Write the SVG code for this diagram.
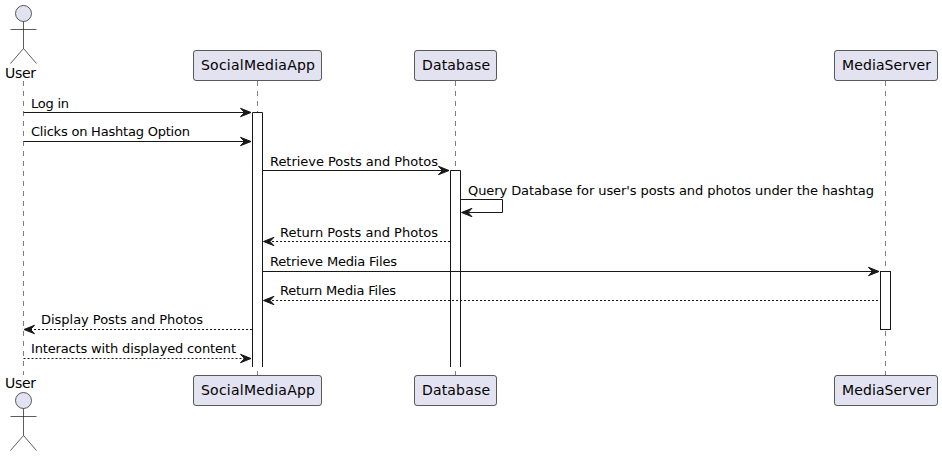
<svg xmlns="http://www.w3.org/2000/svg" width="942" height="456" viewBox="0 0 942 456">
<style>
text{font-family:"DejaVu Sans",sans-serif;fill:#000}
.p{font-size:14px}
.m{font-size:13px}
.life{stroke:#181818;stroke-opacity:.55;stroke-width:1;stroke-dasharray:5,5;fill:none}
.box{fill:#E2E2F0;stroke:#181818;stroke-opacity:.7;stroke-width:1}
.act{fill:#fff;stroke:#181818;stroke-width:1}
.act2{fill:#fff;stroke:none}
.actl{stroke:#181818;stroke-width:1;fill:none}
.a{stroke:#181818;stroke-width:1;fill:none}
.d{stroke:#181818;stroke-width:1;fill:none;stroke-dasharray:2,2}
.h{fill:#181818;stroke:#181818;stroke-width:1}
.fig{fill:none;stroke:#181818;stroke-opacity:.7;stroke-width:1}
.head{fill:#E2E2F0;stroke:#181818;stroke-opacity:.7;stroke-width:1}
</style>
<defs>
<path id="ar" class="h" d="M0,0 L-10.5,-4.2 L-6.5,0 L-10.5,4.2 Z"/>
<path id="al" class="h" d="M0,0 L10.5,-4.2 L6.5,0 L10.5,4.2 Z"/>
<g id="fig"><circle class="head" cx="0" cy="0" r="8"/><path class="fig" d="M0,8 V35 M-13,16 H13 M0,35 L-13,50 M0,35 L13,50"/></g>
</defs>
<g id="lifelines">
<path class="life" d="M23.5,81 V375"/>
<path class="life" d="M257.5,81 V375"/>
<path class="life" d="M455.5,81 V375"/>
<path class="life" d="M885.5,81 V375"/>
</g>
<g id="activations">
<rect class="act2" x="252" y="112" width="10" height="255"/>
<path class="actl" d="M252.5,367 V112.5 H262.5 V367"/>
<rect class="act2" x="450" y="170" width="10" height="197"/>
<path class="actl" d="M450.5,367 V170.5 H460.5 V367"/>
<rect class="act" x="880.5" y="271.5" width="10" height="58"/>
</g>
<g id="connectors">
<path class="a" d="M23.5,112.5 H247"/><use href="#ar" x="251" y="112.5"/>
<path class="a" d="M23.5,141.5 H247"/><use href="#ar" x="251" y="141.5"/>
<path class="a" d="M262.5,170.5 H445"/><use href="#ar" x="449" y="170.5"/>
<path class="a" d="M460.5,199.5 H502.5 V212.5 H466"/><use href="#al" x="461.5" y="212.5"/>
<path class="d" d="M450,241.5 H267"/><use href="#al" x="263.5" y="241.5"/>
<path class="a" d="M262.5,271.5 H875"/><use href="#ar" x="879" y="271.5"/>
<path class="d" d="M878,300.5 H267"/><use href="#al" x="263.5" y="300.5"/>
<path class="d" d="M252,329.5 H28"/><use href="#al" x="24" y="329.5"/>
<path class="d" d="M23.5,358.5 H247"/><use href="#ar" x="251" y="358.5"/>
</g>
<g id="labels">
<text class="m" x="31" y="108" textLength="38">Log in</text>
<text class="m" x="31" y="136" textLength="159">Clicks on Hashtag Option</text>
<text class="m" x="270" y="166" textLength="168">Retrieve Posts and Photos</text>
<text class="m" x="468" y="195" textLength="406">Query Database for user's posts and photos under the hashtag</text>
<text class="m" x="280" y="237" textLength="158">Return Posts and Photos</text>
<text class="m" x="270" y="266" textLength="127">Retrieve Media Files</text>
<text class="m" x="280" y="295" textLength="116">Return Media Files</text>
<text class="m" x="41" y="324" textLength="162">Display Posts and Photos</text>
<text class="m" x="31" y="353" textLength="205">Interacts with displayed content</text>
</g>
<g id="user-top"><use href="#fig" x="23.5" y="13.5"/><text class="p" x="5" y="78" textLength="31">User</text></g>
<g id="user-bottom"><text class="p" x="5" y="388" textLength="31">User</text><use href="#fig" x="23.5" y="400.5"/></g>
<g id="socialmediaapp-top"><rect class="box" x="193.5" y="50.5" width="128" height="30" rx="2.5"/><text class="p" x="201" y="70" textLength="114">SocialMediaApp</text></g>
<g id="database-top"><rect class="box" x="414.5" y="50.5" width="82" height="30" rx="2.5"/><text class="p" x="422" y="70" textLength="68">Database</text></g>
<g id="mediaserver-top"><rect class="box" x="834.5" y="50.5" width="103" height="30" rx="2.5"/><text class="p" x="842" y="70" textLength="89">MediaServer</text></g>
<g id="socialmediaapp-bottom"><rect class="box" x="193.5" y="375.5" width="128" height="30" rx="2.5"/><text class="p" x="201" y="395" textLength="114">SocialMediaApp</text></g>
<g id="database-bottom"><rect class="box" x="414.5" y="375.5" width="82" height="30" rx="2.5"/><text class="p" x="422" y="395" textLength="68">Database</text></g>
<g id="mediaserver-bottom"><rect class="box" x="834.5" y="375.5" width="103" height="30" rx="2.5"/><text class="p" x="842" y="395" textLength="89">MediaServer</text></g>
</svg>
